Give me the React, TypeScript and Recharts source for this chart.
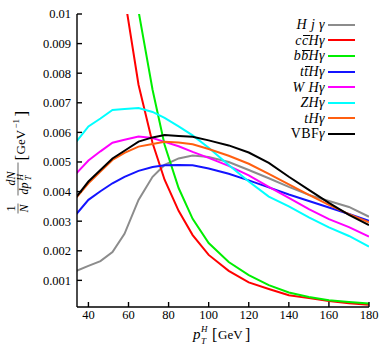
import { LineChart, Line, XAxis, YAxis, Legend } from "recharts";

// p_T^H bin positions (GeV)
const ptValues = [34, 40, 46, 52, 58, 65, 72, 78, 85, 92, 100, 110, 120, 130, 140, 150, 160, 170, 180];

const hj = [0.00132, 0.00149, 0.00165, 0.00196, 0.00257, 0.00372, 0.0045, 0.0049, 0.00512, 0.00522, 0.00517, 0.005, 0.00473, 0.00445, 0.00416, 0.00389, 0.00368, 0.00348, 0.00315];
const cch = [0.028, 0.022, 0.0175, 0.0135, 0.0106, 0.00761, 0.00564, 0.0044, 0.00335, 0.00253, 0.00186, 0.00132, 0.00093, 0.00071, 0.0005, 0.0004, 0.0003, 0.00023, 0.00018];
const bbh = [0.035, 0.028, 0.022, 0.0175, 0.0135, 0.0101, 0.00744, 0.00558, 0.00412, 0.00308, 0.00226, 0.00162, 0.00118, 0.00084, 0.00059, 0.00044, 0.00033, 0.00027, 0.00022];
const tth = [0.00324, 0.00372, 0.00401, 0.00428, 0.0045, 0.0047, 0.00483, 0.00489, 0.0049, 0.00489, 0.00478, 0.0046, 0.00438, 0.00414, 0.0039, 0.00368, 0.00346, 0.00324, 0.00301];
const wh = [0.00462, 0.00505, 0.00536, 0.00565, 0.00575, 0.00586, 0.00581, 0.00568, 0.00553, 0.00534, 0.00514, 0.00487, 0.00455, 0.00416, 0.00379, 0.00341, 0.00307, 0.0028, 0.00248];
const zh = [0.00569, 0.0062, 0.00647, 0.00676, 0.00679, 0.00682, 0.00669, 0.00649, 0.0062, 0.0059, 0.00548, 0.0049, 0.00434, 0.00383, 0.0035, 0.00313, 0.00279, 0.0025, 0.00214];
const th = [0.0038, 0.00428, 0.00468, 0.00507, 0.00531, 0.00552, 0.00561, 0.00568, 0.00566, 0.0056, 0.00544, 0.00521, 0.00494, 0.0046, 0.00424, 0.00389, 0.00355, 0.00324, 0.00296];
const vbf = [0.00382, 0.00434, 0.00473, 0.00512, 0.00538, 0.00569, 0.00583, 0.00591, 0.00588, 0.00585, 0.00573, 0.00556, 0.00532, 0.00497, 0.0045, 0.00406, 0.00362, 0.00321, 0.00287];

const xTicks = [40, 60, 80, 100, 120, 140, 160, 180];
const yTicks = [0.001, 0.002, 0.003, 0.004, 0.005, 0.006, 0.007, 0.008, 0.009, 0.01];

const series = [
  { key: "hj", values: hj, color: "#8c8c8c" },
  { key: "cch", values: cch, color: "#ff0000" },
  { key: "bbh", values: bbh, color: "#00ee00" },
  { key: "tth", values: tth, color: "#1414ff" },
  { key: "wh", values: wh, color: "#ff00ff" },
  { key: "zh", values: zh, color: "#00ffff" },
  { key: "th", values: th, color: "#ff5f10" },
  { key: "vbf", values: vbf, color: "#000000" },
];

const rows = ptValues.map((x, i) => {
  const r: any = { x };
  series.forEach((s) => (r[s.key] = s.values[i]));
  return r;
});

const FONT = "'Liberation Serif', serif";

// letter with a bar on top (anti-quark)
const bar = (c: string) => (
  <span style={{ position: "relative", display: "inline-block" }}>
    {c}
    <span style={{ position: "absolute", left: 1, right: -1, top: 2, height: 1, background: "#000" }} />
  </span>
);

const legendLabels: Record<string, any> = {
  hj: <i>H j γ</i>,
  cch: <i>c{bar("c")}Hγ</i>,
  bbh: <i>b{bar("b")}Hγ</i>,
  tth: <i>t{bar("t")}Hγ</i>,
  wh: <i>W Hγ</i>,
  zh: <i>ZHγ</i>,
  th: <i>tHγ</i>,
  vbf: <span>VBF<i>γ</i></span>,
};

function LegendBox() {
  return (
    <div style={{ fontFamily: FONT, fontSize: 14, color: "#000", letterSpacing: 0.4 }}>
      {series.map((s) => (
        <div key={s.key} style={{ height: 15.6, display: "flex", alignItems: "center", justifyContent: "flex-end" }}>
          <span style={{ lineHeight: "15px" }}>{legendLabels[s.key]}</span>
          <div style={{ width: 27, height: 2, background: s.color, marginLeft: 3 }} />
        </div>
      ))}
    </div>
  );
}

const XLabel = () => (
  <g fontFamily={FONT} fill="#000">
    <text x={193} y={339} fontSize={15} fontStyle="italic">p</text>
    <text x={201} y={332} fontSize={9} fontStyle="italic">H</text>
    <text x={201} y={344} fontSize={9} fontStyle="italic">T</text>
    <text x={212} y={340} fontSize={16}>[</text>
    <text x={218} y={339} fontSize={13}>GeV</text>
    <text x={245} y={340} fontSize={16}>]</text>
  </g>
);

const YLabel = () => (
  <g transform="translate(18,161.5) rotate(-90)" fontFamily={FONT} fill="#000">
    <text x={-47} y={-3} fontSize={12} textAnchor="middle">1</text>
    <line x1={-52} x2={-42} y1={0} y2={0} stroke="#000" strokeWidth={0.6} />
    <text x={-47} y={9.5} fontSize={12} fontStyle="italic" textAnchor="middle">N</text>
    <text x={-17} y={-3} fontSize={12} fontStyle="italic" textAnchor="middle">dN</text>
    <line x1={-34} x2={-1} y1={0} y2={0} stroke="#000" strokeWidth={0.6} />
    <text x={-33} y={9.5} fontSize={12} fontStyle="italic">dp</text>
    <text x={-19} y={4.5} fontSize={9} fontStyle="italic">H</text>
    <text x={-19} y={13} fontSize={9} fontStyle="italic">T</text>
    <text x={1} y={8.5} fontSize={17}>[</text>
    <text x={7} y={7} fontSize={13}>GeV</text>
    <text x={33} y={1} fontSize={9}>−1</text>
    <text x={45} y={8.5} fontSize={17}>]</text>
  </g>
);

const axisStyle = { stroke: "#000", strokeWidth: 1.4 };
const tickStyle = { fontFamily: FONT, fontSize: 12.5, fill: "#000" };

export default function App() {
  return (
    <div style={{ position: "absolute", left: 0, top: 0, background: "#fff" }}>
      <LineChart width={382} height={353} data={rows} margin={{ top: 14, right: 13, bottom: 0, left: 0 }}>
        <XAxis
          dataKey="x"
          type="number"
          domain={[34.3, 180]}
          allowDataOverflow
          ticks={xTicks}
          height={46}
          tickSize={-5}
          tickMargin={8}
          axisLine={axisStyle}
          tickLine={axisStyle}
          tick={tickStyle}
          label={{ content: () => <XLabel /> }}
        />
        <XAxis
          xAxisId="top"
          orientation="top"
          type="number"
          domain={[34.3, 180]}
          allowDataOverflow
          ticks={xTicks}
          height={0}
          tickSize={-5}
          axisLine={axisStyle}
          tickLine={axisStyle}
          tick={() => <g />}
        />
        <YAxis
          type="number"
          domain={[0.0001, 0.01]}
          allowDataOverflow
          ticks={yTicks}
          width={77}
          tickSize={-5}
          tickMargin={11}
          axisLine={axisStyle}
          tickLine={axisStyle}
          tick={tickStyle}
          tickFormatter={(v: number) => String(Number(v.toFixed(3)))}
          label={{ content: () => <YLabel /> }}
        />
        <YAxis
          yAxisId="right"
          orientation="right"
          type="number"
          domain={[0.0001, 0.01]}
          allowDataOverflow
          ticks={yTicks}
          width={0}
          tickSize={-5}
          axisLine={axisStyle}
          tickLine={axisStyle}
          tick={() => <g />}
        />
        <Legend
          layout="vertical"
          align="center"
          verticalAlign="middle"
          content={() => <LegendBox />}
          wrapperStyle={{ position: "absolute", top: 17, left: 200, width: 155, height: 130 }}
        />
        {series.map((s) => (
          <Line
            key={s.key}
            dataKey={s.key}
            type="linear"
            stroke={s.color}
            strokeWidth={2}
            dot={false}
            activeDot={false}
            isAnimationActive={false}
          />
        ))}
      </LineChart>
    </div>
  );
}
